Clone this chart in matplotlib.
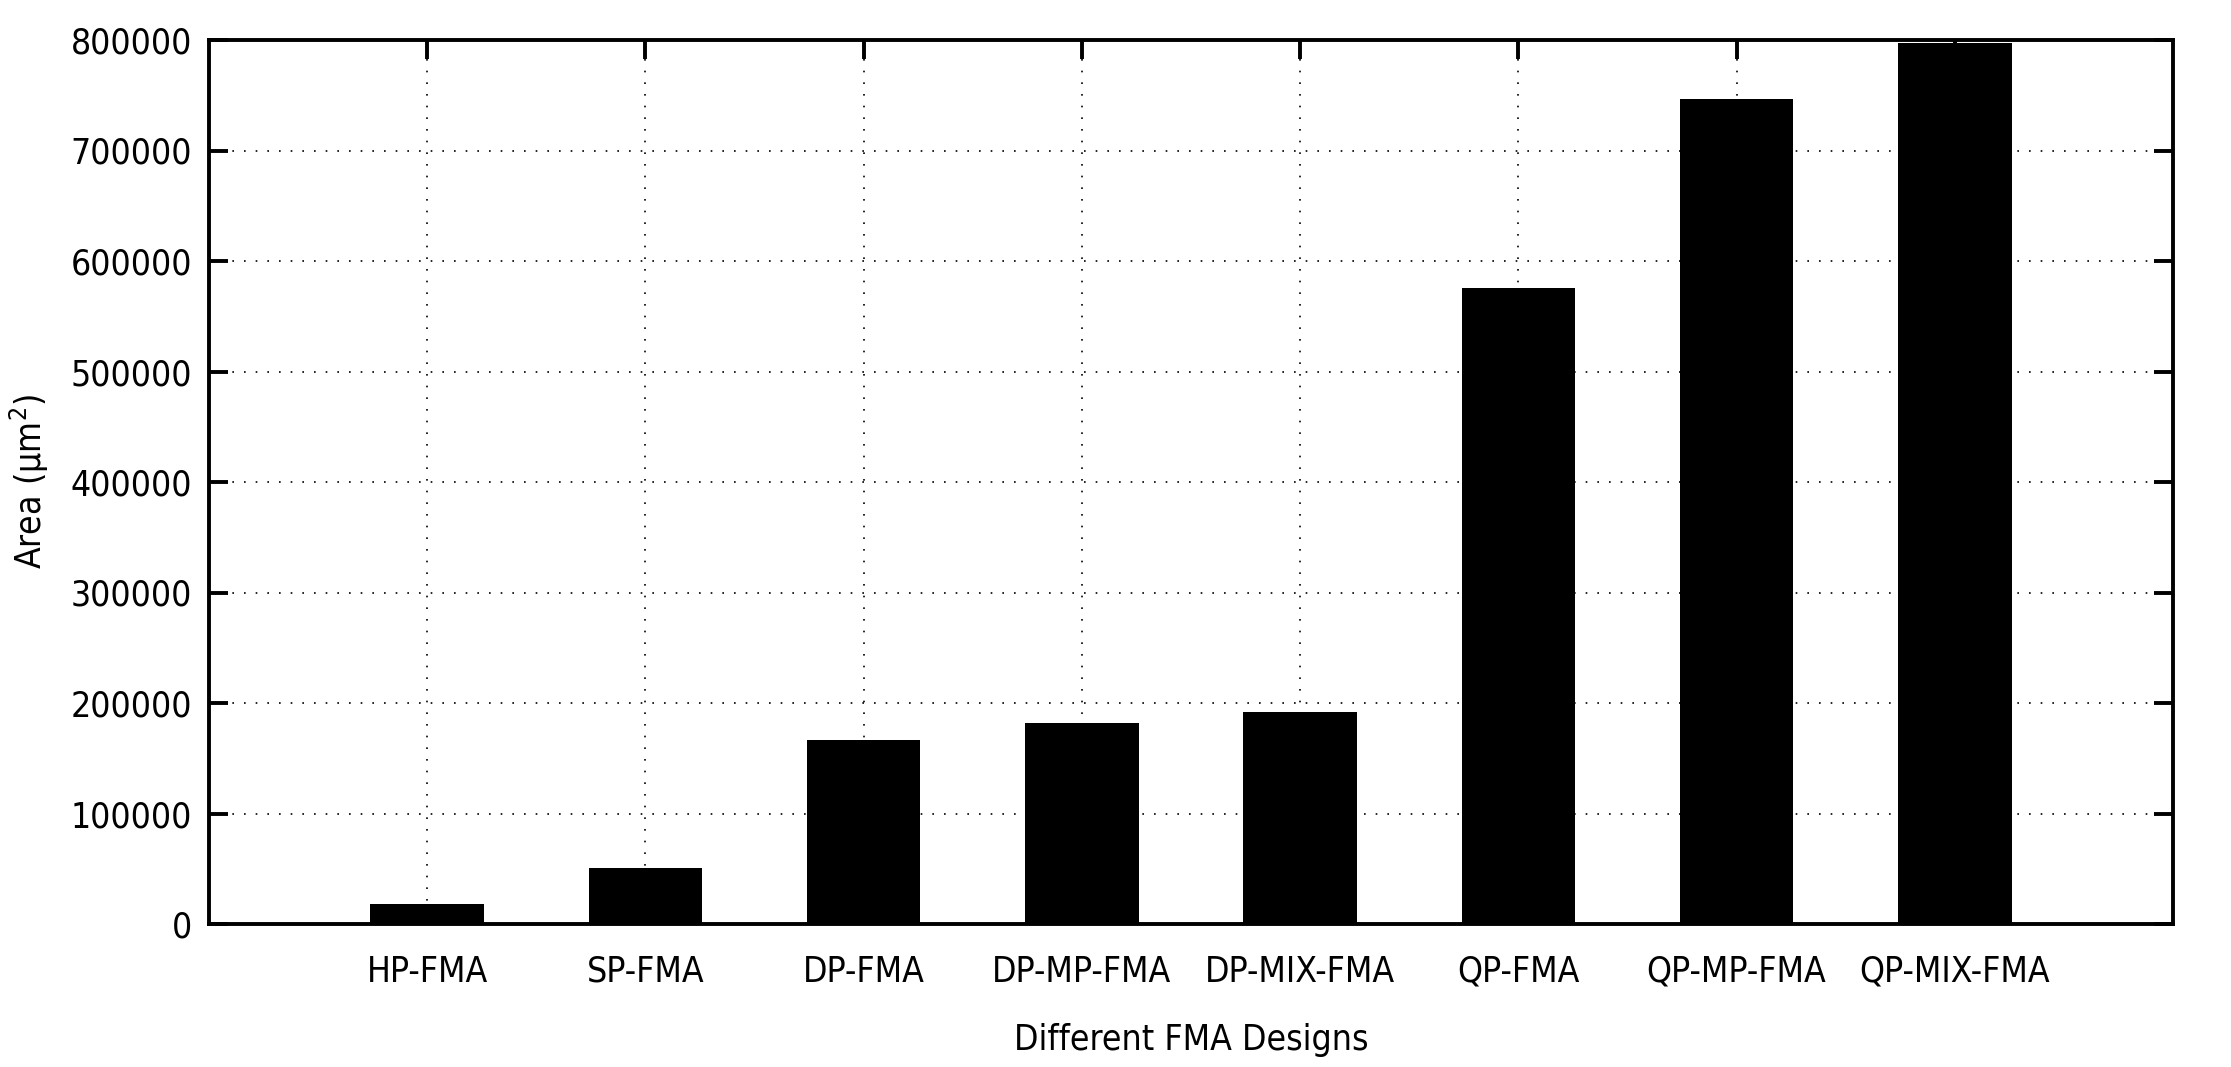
import numpy as np
import matplotlib.pyplot as plt

# data
designs = ['HP-FMA', 'SP-FMA', 'DP-FMA', 'DP-MP-FMA', 'DP-MIX-FMA',
           'QP-FMA', 'QP-MP-FMA', 'QP-MIX-FMA']
area = [18100, 51000, 166500, 182000, 192000, 576000, 747000, 797000]
y_ticks = [0, 100000, 200000, 300000, 400000, 500000, 600000, 700000, 800000]

plt.rcParams['font.family'] = ['DejaVu Sans']
plt.rcParams['font.stretch'] = 'condensed'
fs = 25.5

fig = plt.figure(figsize=(22.31, 10.67), dpi=100)
# axes box: x 209..2173 px, y 40..924 px
ax = fig.add_axes([209 / 2231, 1 - 924 / 1067, 1964 / 2231, 884 / 1067])

x = np.arange(len(designs))
ax.bar(x, area, width=0.52, color='black', zorder=3)

ax.set_xlim(-1, len(designs))
ax.set_ylim(0, 800000)
ax.set_xticks(x)
ax.set_xticklabels(designs)
ax.set_yticks(y_ticks)
ax.set_yticklabels([str(v) for v in y_ticks])

# gnuplot-like look: dotted grid, inward ticks on all four sides
ax.grid(True, color='black', linestyle=(0, (1, 6)), linewidth=1.2, zorder=0)
ax.tick_params(direction='in', length=14, width=2.8, top=True, right=True,
               labelsize=fs)
ax.tick_params(axis='x', pad=22)
ax.tick_params(axis='y', pad=12)
for s in ax.spines.values():
    s.set_linewidth(2.8)
    s.set_zorder(5)

ax.set_ylabel('Area (\u00b5m$^2$)', fontsize=fs, labelpad=14)
ax.set_xlabel('Different FMA Designs', fontsize=fs, labelpad=25)

fig.savefig('out.png', dpi=100)
